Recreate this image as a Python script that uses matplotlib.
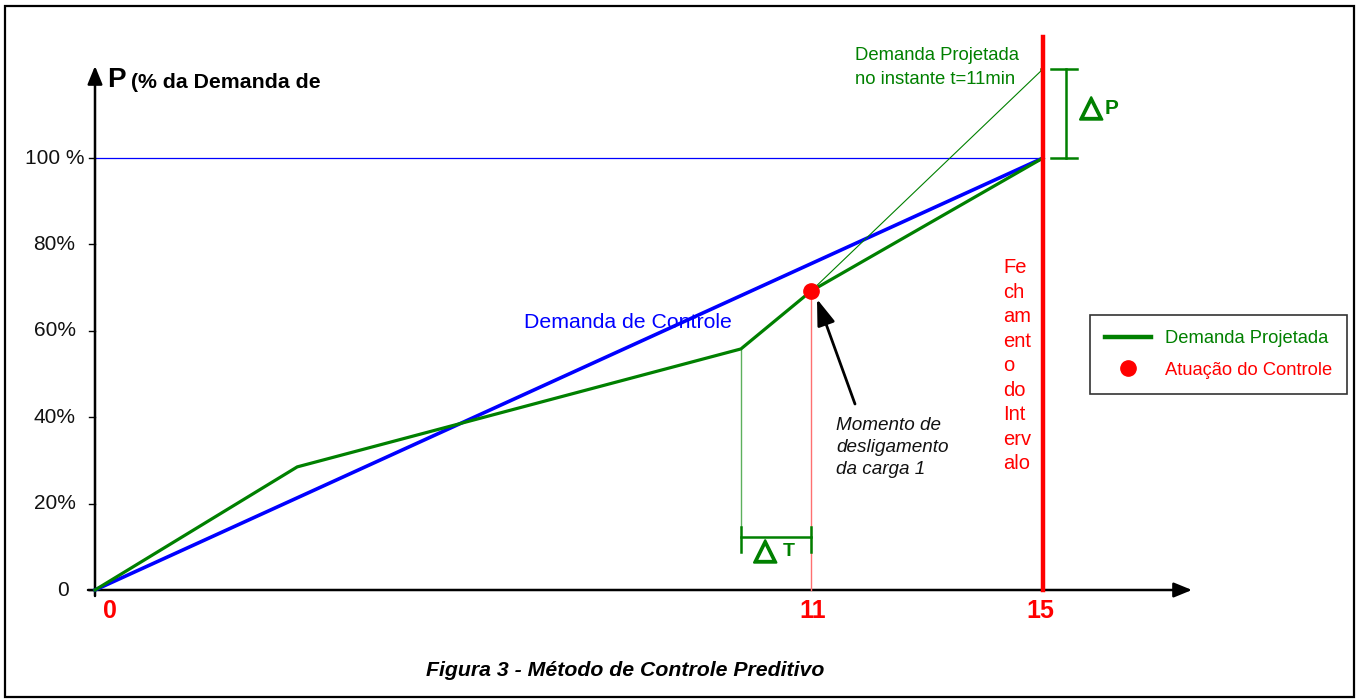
import matplotlib
matplotlib.use("Agg")
import matplotlib.pyplot as plt
import matplotlib.patheffects as pe
from matplotlib.patches import Rectangle
from matplotlib.lines import Line2D

# ---------------- data ----------------
ctrl_t = [0, 15]                       # Demanda de Controle (minutes)
ctrl_p = [0, 100]                      # % of demand
proj_t = [0, 3.2, 10.22, 11.33, 15]    # Demanda Projetada
proj_p = [0, 28.5, 55.8, 69.2, 100]
act_t = 11.33                          # Atuação do Controle
act_p = 69.2
proj_end_t = 15                        # projection at end of interval
proj_end_p = 120.6
dT_start = 10.22
ytick_vals = [0, 20, 40, 60, 80, 100]
ytick_labels = ["0", "20%", "40%", "60%", "80%", "100 %"]
xtick_vals = [0, 11.33, 15]
xtick_labels = ["0", "11", "15"]

BLUE = "#0000ff"
GREEN = "#008000"
RED = "#ff0000"
SANS = "Liberation Sans"

# pixel helpers (for text / annotation placement only)
def px(x):
    return (x - 95) / 63.2

def py(y):
    return (590 - y) / 4.32

fig = plt.figure(figsize=(13.62, 7), dpi=100)
ax = fig.add_axes([0, 0, 1, 1])
ax.set_xlim(px(0), px(1362))
ax.set_ylim(py(700), py(0))
ax.axis("off")

# figure border
fig.patches.append(Rectangle((5 / 1362, 3 / 700), 1349 / 1362, 691 / 700,
                             transform=fig.transFigure, fill=False,
                             edgecolor="black", lw=1.6))

AX_ARROW = "-|>,head_length=1.1,head_width=0.45"
# axes with arrows
ax.annotate("", xy=(px(1192), 0), xytext=(px(88), 0),
            arrowprops=dict(arrowstyle=AX_ARROW, color="black", lw=1.8,
                            shrinkA=0, shrinkB=0))
ax.annotate("", xy=(0, py(66)), xytext=(0, py(596)),
            arrowprops=dict(arrowstyle=AX_ARROW, color="black", lw=1.8,
                            shrinkA=0, shrinkB=0))

# y ticks
for v, lab in zip(ytick_vals, ytick_labels):
    ax.plot([px(89), 0], [v, v], color="black", lw=1, zorder=3)
    xc = px(63) if v == 0 else px(54.5)
    ax.text(xc, v, lab, ha="center", va="center",
            fontsize=15, family=SANS, color="#111111")

# x tick labels
for v, lab in zip(xtick_vals, xtick_labels):
    off = 0.24 if v == 0 else (-0.05 if v == 15 else 0.03)
    ax.text(v + off, py(611), lab, ha="center", va="center", fontsize=18,
            fontweight="bold", color=RED, family=SANS)

# 100% reference line
ax.plot([0, ctrl_t[-1]], [ctrl_p[-1], ctrl_p[-1]], color=BLUE, lw=0.9, zorder=2)

# control demand line
ax.plot(ctrl_t, ctrl_p, color=BLUE, lw=2.6, zorder=4)

# projected demand
ax.plot(proj_t, proj_p, color=GREEN, lw=2.3, zorder=5)

# projection from actuation point
ax.plot([act_t, proj_end_t], [act_p, proj_end_p], color=GREEN, lw=0.8, zorder=4)

# thin verticals
ax.plot([act_t, act_t], [0, act_p], color="#ff7070", lw=1.0, zorder=3)
ax.plot([dT_start, dT_start], [py(527), proj_p[2]], color="#5cb05c", lw=1.0, zorder=3)

# end of interval
ax.plot([proj_end_t, proj_end_t], [0, py(37)], color=RED, lw=3.2, zorder=6)

# actuation point
ax.plot([act_t], [act_p], "o", color=RED, markersize=11, zorder=8)

thick = [pe.withStroke(linewidth=1.6, foreground=GREEN)]

# Delta T bracket
yT = py(537)
ax.plot([dT_start, act_t], [yT, yT], color=GREEN, lw=1.8, zorder=5)
for xv in (dT_start, act_t):
    ax.plot([xv, xv], [py(527), py(552)], color=GREEN, lw=1.8, zorder=5)
ax.text(px(754), py(551), "\u25b3", ha="left", va="center", fontsize=21,
        color=GREEN, family="DejaVu Sans", path_effects=thick)
ax.text(px(783), py(552), "T", ha="left", va="center", fontsize=14,
        fontweight="bold", color=GREEN, family=SANS)

# Delta P bracket
xP = px(1066)
ax.plot([xP, xP], [proj_end_p, ctrl_p[-1]], color=GREEN, lw=1.8, zorder=5)
for yv in (proj_end_p, ctrl_p[-1]):
    ax.plot([px(1051), px(1077)], [yv, yv], color=GREEN, lw=1.8, zorder=5)
ax.plot([px(1041), proj_end_t], [proj_end_p, proj_end_p], color=GREEN, lw=1.8, zorder=5)
ax.text(px(1080), py(108), "\u25b3", ha="left", va="center", fontsize=21,
        color=GREEN, family="DejaVu Sans", path_effects=thick)
ax.text(px(1105), py(108), "P", ha="left", va="center", fontsize=15,
        fontweight="bold", color=GREEN, family=SANS)

# texts
ax.text(px(107), py(80), "P", ha="left", va="center", fontsize=20,
        fontweight="bold", family=SANS)
ax.text(px(131), py(83), "(% da Demanda de", ha="left", va="center", fontsize=15.3,
        fontweight="bold", family=SANS)
ax.text(px(524), py(323), "Demanda de Controle", ha="left", va="center",
        fontsize=15.3, color=BLUE, family=SANS)
ax.text(px(855), py(56), "Demanda Projetada", ha="left", va="center",
        fontsize=13.3, color=GREEN, family=SANS)
ax.text(px(855), py(80), "no instante t=11min", ha="left", va="center",
        fontsize=13.3, color=GREEN, family=SANS)
ax.text(px(1003), py(258), "Fe\nch\nam\nent\no\ndo\nInt\nerv\nalo", ha="left",
        va="top", fontsize=14.5, color=RED, family=SANS, linespacing=1.37)
ax.text(px(836), py(417), "Momento de\ndesligamento\nda carga 1", ha="left",
        va="top", fontsize=13.6, style="italic", color="#111111", family=SANS,
        linespacing=1.38)
ax.annotate("", xy=(px(817), py(299)), xytext=(px(855), py(404)),
            arrowprops=dict(arrowstyle="-|>,head_length=1.6,head_width=0.55",
                            color="black", lw=2, shrinkA=0, shrinkB=0))

# caption
ax.text(px(625), py(670), "Figura 3 - Método de Controle Preditivo", ha="center",
        va="center", fontsize=15.3, fontweight="bold", style="italic", family=SANS)

# legend
h1 = Line2D([], [], color=GREEN, lw=3.2)
h2 = Line2D([], [], color=RED, marker="o", ls="none", markersize=11)
leg = ax.legend([h1, h2], ["Demanda Projetada", "Atuação do Controle"],
                loc="upper left", bbox_to_anchor=(1090 / 1362, 1 - 315 / 700),
                bbox_transform=fig.transFigure, borderaxespad=0,
                prop={"family": SANS, "size": 13.2}, frameon=True, fancybox=False,
                edgecolor="#333333", handlelength=2.5, handletextpad=0.75,
                labelspacing=0.8, borderpad=0.82, framealpha=1)
leg.get_frame().set_linewidth(1.2)
leg.get_texts()[0].set_color(GREEN)
leg.get_texts()[1].set_color(RED)

fig.savefig("out.png", dpi=100)
